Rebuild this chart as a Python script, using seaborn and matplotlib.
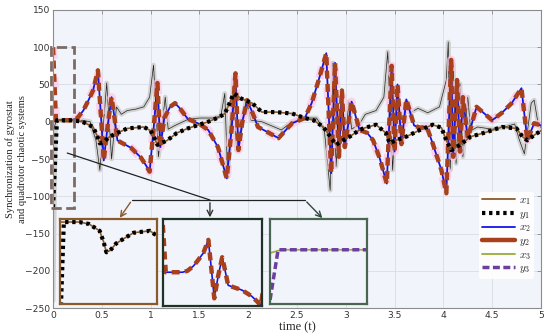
import matplotlib
matplotlib.use('Agg')
import matplotlib.pyplot as plt
import seaborn as sns
from matplotlib.lines import Line2D
from matplotlib.patches import Rectangle

# pair 1 (x1 brown, y1 black dotted)
t1 = [0, 0.04, 0.2, 0.3, 0.41, 0.45, 0.48, 0.52, 0.58, 0.66, 0.76, 0.93, 1.0, 1.04, 1.07,
      1.12, 1.17, 1.27, 1.38, 1.59, 1.7, 1.76, 1.8, 1.85, 1.93, 2.04, 2.14, 2.28, 2.45,
      2.58, 2.67, 2.77, 2.84, 2.9, 2.97, 3.04, 3.14, 3.2, 3.31, 3.41, 3.45, 3.51, 3.62,
      3.76, 3.89, 3.98, 4.03, 4.08, 4.17, 4.28, 4.44, 4.6, 4.75, 4.81, 4.86, 4.93, 5.0]
x1 = [2, 2, 2, 0, -7, -18, -29, -27, -20, -15, -9, -7, -12, -22, -31,
      -28, -25, -15, -9, 0, 6, 11, 22, 38, 31, 25, 13, 13, 11,
      5, 2, -7, -20, -31, -25, -20, -11, -8, -4, -15, -29, -25, -20,
      -11, -4, -8, -25, -38, -31, -20, -14, -7, -9, -20, -25, -18, -12]
y1 = [-115] + x1[1:]

# pair 2 (x2 blue, y2 red dashed)
t2 = [0, 0.03, 0.2, 0.25, 0.31, 0.36, 0.41, 0.46, 0.49, 0.52, 0.56, 0.6, 0.63, 0.66, 0.7,
      0.8, 0.9, 0.95, 0.99, 1.03, 1.07, 1.1, 1.14, 1.2, 1.25, 1.3, 1.38, 1.5, 1.59, 1.69,
      1.78, 1.83, 1.87, 1.9, 1.94, 1.99, 2.05, 2.1, 2.2, 2.31, 2.45, 2.58, 2.65, 2.72, 2.8,
      2.85, 2.89, 2.93, 2.96, 2.99, 3.06, 3.14, 3.22, 3.28, 3.35, 3.42, 3.47, 3.5, 3.53,
      3.57, 3.62, 3.7, 3.76, 3.83, 3.89, 3.98, 4.03, 4.08, 4.1, 4.14, 4.17, 4.2, 4.25,
      4.34, 4.5, 4.6, 4.7, 4.8, 4.86, 4.93, 5.0]
x2 = [0, 2, 2, 5, 15, 28, 42, 69, 10, -52, -5, 33, 5, -25, -28,
      -35, -48, -58, -67, -10, 52, -34, 5, 20, 25, 18, 4, -3, -11, -34,
      -76, -10, 65, -38, 0, 29, 10, -7, -14, -22, -2, 5, 25, 55, 92,
      -69, 79, -47, 42, -34, 27, -11, -15, -25, -50, -83, 75, -40, 50,
      -30, 30, -5, -8, -7, -29, -65, -96, 83, -47, 56, -40, 33, -22,
      20, 2, 12, 25, 45, -25, -2, -5]
y2 = [100] + x2[1:]

# pair 3 (x3 thin line, y3 wide grey / purple dashed)
t3 = [0, 0.025, 0.04, 0.3, 0.38, 0.44, 0.48, 0.55, 0.6, 0.65, 0.7, 0.76, 0.85, 0.93, 0.99,
      1.03, 1.08, 1.15, 1.18, 1.25, 1.38, 1.5, 1.65, 1.72, 1.76, 1.79, 1.85, 1.88, 1.98,
      2.03, 2.14, 2.34, 2.45, 2.58, 2.7, 2.78, 2.84, 2.87, 2.9, 2.95, 3.0, 3.03, 3.06,
      3.14, 3.2, 3.31, 3.39, 3.43, 3.48, 3.52, 3.57, 3.62, 3.66, 3.74, 3.84, 3.96, 4.03,
      4.05, 4.07, 4.1, 4.13, 4.17, 4.2, 4.25, 4.28, 4.35, 4.5, 4.63, 4.73, 4.78, 4.83,
      4.9, 4.93, 4.97, 5.0]
x3 = [-14, -2, 2, 2, 0, -25, -65, 52, -50, 20, 10, 15, 17, 20, 33,
      76, -47, 33, -10, -5, 3, 5, 5, 8, 38, -74, 56, -38, 29,
      2, 0, -11, 0, 5, 5, -11, -92, 79, -60, 35, -25, 27, -10,
      -3, 10, 15, 33, 94, -65, 42, -25, 27, 12, 18, 12, 20, 56,
      107, -65, 78, -56, 51, -47, 33, -12, -7, -10, -7, -3, -25, -43,
      25, 29, -2, -8]
y3 = [-240, 2] + x3[2:]

labels = ['$x_1$', '$y_1$', '$x_2$', '$y_2$', '$x_3$', '$y_3$']

sns.set_style('whitegrid')
plt.rcParams['font.family'] = ['DejaVu Sans']
plt.rcParams['mathtext.fontset'] = 'cm'

c_x1, c_x2, c_y2 = '#8b5a2b', '#1414e6', '#a8401c'
c_x3, c_y3 = '#9bab3c', '#6a3f9e'
bg = '#f1f4fa'
dash2 = (0, (1.8, 1.2))

fig = plt.figure(figsize=(5.5, 3.33), dpi=100)
ax = fig.add_axes([0.0964, 0.075, 0.8872, 0.895])
ax.set_facecolor(bg)

kw = dict(estimator=None, sort=False, ax=ax, legend=False)
sns.lineplot(x=t3, y=y3, color='#d2d2d2', lw=3.4, **kw)
sns.lineplot(x=t3, y=x3, color='#222222', lw=0.5, **kw)
sns.lineplot(x=t2, y=y2, color='#ffc6e8', lw=6, alpha=0.7, linestyle=(0, (1.4, 2.2)), **kw)
sns.lineplot(x=t2, y=x2, color=c_x2, lw=1.3, **kw)
sns.lineplot(x=t2, y=y2, color=c_y2, lw=3.2, linestyle=dash2, **kw)
sns.lineplot(x=t1, y=x1, color=c_x1, lw=1.2, **kw)
sns.lineplot(x=t1, y=y1, color='black', lw=3, linestyle=(0, (0.8, 0.9)), **kw)

ax.set_xlim(0, 5)
ax.set_ylim(-250, 150)
ax.set_xticks([0, 0.5, 1, 1.5, 2, 2.5, 3, 3.5, 4, 4.5, 5])
ax.set_xticklabels(['0', '0.5', '1', '1.5', '2', '2.5', '3', '3.5', '4', '4.5', '5'])
ax.set_yticks(range(-250, 151, 50))
ax.grid(True, color='#d8dde6', lw=0.6)
for s in ax.spines.values():
    s.set_color('#8c8c8c')
    s.set_linewidth(0.8)
ax.tick_params(direction='in', top=True, right=True, length=3, width=0.6,
               labelsize=6.6, labelcolor='#333333', color='#8c8c8c', pad=2)
ax.set_xlabel('time (t)', family='Liberation Serif', fontsize=9, labelpad=1)
ax.set_ylabel('Synchronization of gyrostat\nand quadrotor chaotic systems',
              family='Liberation Serif', fontsize=7.6, linespacing=1.35)
ax.yaxis.set_label_coords(-0.054, 0.5)

# dashed zoom box
ax.add_patch(Rectangle((-0.025, -116), 0.235, 216, fill=False, ls='--', lw=2,
                       edgecolor='#7d6a64', clip_on=False, zorder=5))

# connector lines and arrows
ax.plot([0.146, 1.608], [-42, -105], color='#222222', lw=0.9, zorder=6)
ax.plot([0.81, 2.58], [-105, -105], color='#222222', lw=0.9, zorder=6)
ax.annotate('', xy=(0.668, -132), xytext=(0.81, -105),
            arrowprops=dict(arrowstyle='->', color=c_x1, lw=1.0), zorder=6)
ax.annotate('', xy=(1.608, -132), xytext=(1.608, -105),
            arrowprops=dict(arrowstyle='->', color='#333333', lw=1.0), zorder=6)
ax.annotate('', xy=(2.78, -132), xytext=(2.58, -105),
            arrowprops=dict(arrowstyle='->', color='#2f4a3a', lw=1.0), zorder=6)

handles = [Line2D([], [], color=c_x1, lw=1.3),
           Line2D([], [], color='black', lw=3, linestyle=(0, (0.8, 0.9))),
           Line2D([], [], color=c_x2, lw=1.3),
           Line2D([], [], color=c_y2, lw=3.2),
           Line2D([], [], color=c_x3, lw=1.3),
           Line2D([], [], color=c_y3, lw=2.5, linestyle=(0, (2, 1)))]
ax.legend(handles, labels, loc='lower right', bbox_to_anchor=(0.998, 0.08),
          fontsize=8, frameon=True, facecolor='white', edgecolor='none',
          framealpha=0.9, handlelength=2.9, labelspacing=0.15, borderpad=0.3,
          handletextpad=0.4)

# insets
def make_inset(rect, edge):
    a = fig.add_axes(rect)
    a.set_facecolor(bg)
    a.set_xticks([])
    a.set_yticks([])
    a.grid(False)
    for s in a.spines.values():
        s.set_color(edge)
        s.set_linewidth(1.6)
    return a

in1 = make_inset([0.109, 0.087, 0.176, 0.255], '#8b5a2b')
sns.lineplot(x=t1, y=x1, color=c_x1, lw=1.2, estimator=None, sort=False, ax=in1)
sns.lineplot(x=t1, y=y1, color='black', lw=3, linestyle=(0, (0.8, 0.9)),
             estimator=None, sort=False, ax=in1)
in1.set_xlim(0, 1.0)
in1.set_ylim(-82, 5)

in2 = make_inset([0.296, 0.081, 0.18, 0.261], '#1e3326')
sns.lineplot(x=t2, y=x2, color=c_x2, lw=1.2, estimator=None, sort=False, ax=in2)
sns.lineplot(x=t2, y=y2, color=c_y2, lw=3.2, linestyle=dash2,
             estimator=None, sort=False, ax=in2)
in2.set_xlim(0, 1.0)
in2.set_ylim(-68, 112)

in3 = make_inset([0.491, 0.087, 0.176, 0.255], '#4a6650')
sns.lineplot(x=t3, y=x3, color=c_x3, lw=1.2, estimator=None, sort=False, ax=in3)
sns.lineplot(x=t3, y=y3, color=c_y3, lw=2.5, linestyle=(0, (2, 1)),
             estimator=None, sort=False, ax=in3)
in3.set_xlim(0, 0.3)
in3.set_ylim(-260, 150)

for a in (in1, in2, in3):
    a.set_xlabel('')
    a.set_ylabel('')

fig.savefig('out.png', dpi=100)
